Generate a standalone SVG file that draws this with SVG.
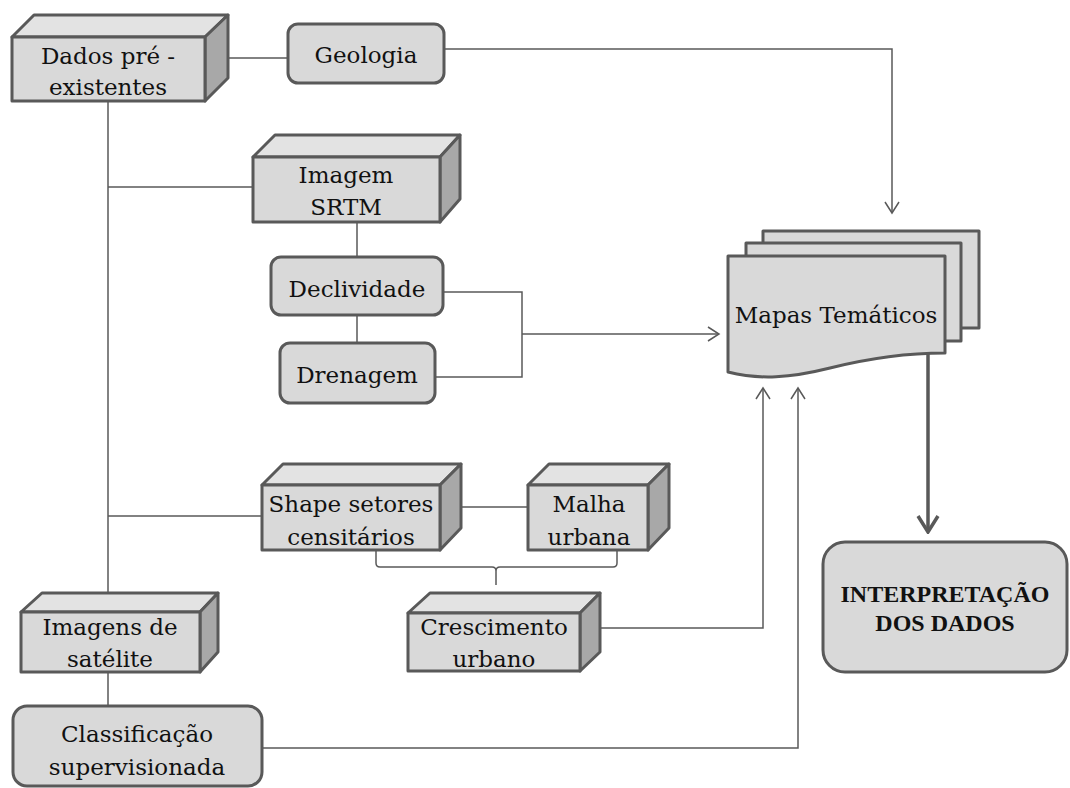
<svg xmlns="http://www.w3.org/2000/svg" width="1070" height="788" viewBox="0 0 1070 788">
<defs>
<style>
.t{font-family:'DejaVu Serif',serif;font-size:23px;fill:#111;text-anchor:middle}
.b{font-family:'Liberation Serif',serif;font-size:24px;font-weight:bold;fill:#111;text-anchor:middle}
.f{fill:#d9d9d9;stroke:#595959;stroke-width:3;stroke-linejoin:round}
.top{fill:#e3e3e3;stroke:#595959;stroke-width:3;stroke-linejoin:round}
.side{fill:#a8a8a8;stroke:#595959;stroke-width:3;stroke-linejoin:round}
.c{fill:none;stroke:#595959;stroke-width:1.5}
.thick{fill:none;stroke:#595959;stroke-width:3.5}
</style>
<marker id="arr" markerUnits="userSpaceOnUse" markerWidth="16" markerHeight="16" viewBox="0 0 16 16" refX="14" refY="8" orient="auto">
<path d="M3,1 L14,8 L3,15" fill="none" stroke="#595959" stroke-width="1.5"/>
</marker>
<marker id="arrT" markerUnits="userSpaceOnUse" markerWidth="20" markerHeight="24" viewBox="0 0 20 24" refX="18" refY="12" orient="auto">
<path d="M2,2 L18,12 L2,22" fill="none" stroke="#595959" stroke-width="3.5"/>
</marker>
</defs>
<rect width="1070" height="788" fill="#fff"/>

<g id="connectors">
<path class="c" d="M228,58 H288"/>
<path class="c" d="M444,49 H892 V213" marker-end="url(#arr)"/>
<path class="c" d="M108,101 V593"/>
<path class="c" d="M108,187 H253"/>
<path class="c" d="M108,516 H262"/>
<path class="c" d="M357,222 V257"/>
<path class="c" d="M357,315 V343"/>
<path class="c" d="M443,292 H522 V377 H435"/>
<path class="c" d="M522,334 H719" marker-end="url(#arr)"/>
<path class="c" d="M462,507 H528"/>
<path class="c" d="M376,550 V563 Q376,567 380,567 H492 Q496,567 496,571 V585 M496,571 Q496,567 500,567 H613 Q617,567 617,563 V550"/>
<path class="c" d="M600,628 H763 V388" marker-end="url(#arr)"/>
<path class="c" d="M108,672 V706"/>
<path class="c" d="M262,748 H798 V388" marker-end="url(#arr)"/>
<path class="thick" d="M928,353 V532" marker-end="url(#arrT)"/>
</g>

<g id="dados">
<polygon class="top" points="12,37 34,15 228,15 205,37"/>
<polygon class="side" points="205,37 228,15 228,78 205,101"/>
<rect class="f" x="12" y="37" width="193" height="64"/>
<text class="t" x="108" y="64">Dados pré -</text>
<text class="t" x="108" y="95">existentes</text>
</g>

<g id="geologia">
<rect class="f" x="288" y="24" width="156" height="59" rx="10"/>
<text class="t" x="366" y="63">Geologia</text>
</g>

<g id="srtm">
<polygon class="top" points="253,157 275,135 460,135 440,157"/>
<polygon class="side" points="440,157 460,135 460,199 440,222"/>
<rect class="f" x="253" y="157" width="187" height="65"/>
<text class="t" x="346" y="183">Imagem</text>
<text class="t" x="346" y="215">SRTM</text>
</g>

<g id="declividade">
<rect class="f" x="271" y="257" width="172" height="58" rx="10"/>
<text class="t" x="357" y="297">Declividade</text>
</g>

<g id="drenagem">
<rect class="f" x="280" y="343" width="155" height="60" rx="10"/>
<text class="t" x="357" y="383">Drenagem</text>
</g>

<g id="mapas">
<rect class="f" x="763" y="231" width="216" height="97"/>
<rect class="f" x="746" y="243" width="215" height="98"/>
<path class="f" d="M728,256 H945 V353 C905,353 870,358 830,368 C790,378 760,380 728,372 Z"/>
<text class="t" x="836" y="323">Mapas Temáticos</text>
</g>

<g id="interpretacao">
<rect class="f" x="823" y="542" width="244" height="130" rx="22"/>
<text class="b" x="945" y="602">INTERPRETAÇÃO</text>
<text class="b" x="945" y="631">DOS DADOS</text>
</g>

<g id="shape">
<polygon class="top" points="262,485 283,464 461,464 440,485"/>
<polygon class="side" points="440,485 461,464 461,528 440,550"/>
<rect class="f" x="262" y="485" width="178" height="65"/>
<text class="t" x="351" y="512">Shape setores</text>
<text class="t" x="351" y="545">censitários</text>
</g>

<g id="malha">
<polygon class="top" points="528,485 549,464 669,464 648,485"/>
<polygon class="side" points="648,485 669,464 669,528 648,550"/>
<rect class="f" x="528" y="485" width="120" height="65"/>
<text class="t" x="589" y="512">Malha</text>
<text class="t" x="589" y="545">urbana</text>
</g>

<g id="crescimento">
<polygon class="top" points="408,613 430,593 600,593 580,613"/>
<polygon class="side" points="580,613 600,593 600,652 580,671"/>
<rect class="f" x="408" y="613" width="172" height="58"/>
<text class="t" x="494" y="635">Crescimento</text>
<text class="t" x="494" y="667">urbano</text>
</g>

<g id="imagens">
<polygon class="top" points="21,612 42,593 218,593 200,612"/>
<polygon class="side" points="200,612 218,593 218,652 200,672"/>
<rect class="f" x="21" y="612" width="179" height="60"/>
<text class="t" x="110" y="635">Imagens de</text>
<text class="t" x="110" y="667">satélite</text>
</g>

<g id="classificacao">
<rect class="f" x="13" y="706" width="249" height="80" rx="14"/>
<text class="t" x="137" y="742">Classificação</text>
<text class="t" x="137" y="775">supervisionada</text>
</g>
</svg>
